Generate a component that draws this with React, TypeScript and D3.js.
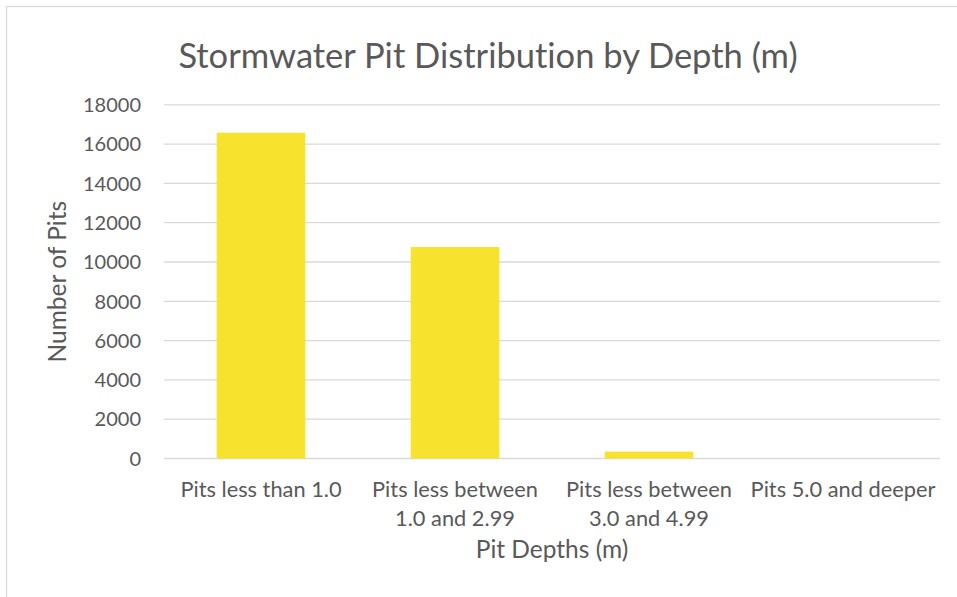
import React from "react";
import * as d3 from "d3";

const categories: string[][] = [
  ["Pits less than 1.0"],
  ["Pits less between", "1.0 and 2.99"],
  ["Pits less between", "3.0 and 4.99"],
  ["Pits 5.0 and deeper"],
];
const values: number[] = [16580, 10760, 350, 0];
const yTicks: number[] = [0, 2000, 4000, 6000, 8000, 10000, 12000, 14000, 16000, 18000];

const W = 957;
const H = 597;
const FONT = "Lato, 'Open Sans', sans-serif";
const TEXT = "#595959";
const GRID = "#d9d9d9";
const BAR = "#F7E22D";

export default function App() {
  const left = 164, right = 940, top = 104.8, bottom = 458.5;
  const x = d3
    .scaleBand<number>()
    .domain(categories.map((_, i) => i))
    .range([left, right])
    .paddingInner(0.543)
    .paddingOuter(0.2715);
  const y = d3.scaleLinear().domain([0, 18000]).range([bottom, top]);

  return (
    <svg
      width={W}
      height={H}
      style={{ position: "absolute", left: 0, top: 0, background: "#fff", fontVariantLigatures: "none" }}
      fontFamily={FONT}
    >
      <rect x={0} y={0} width={W} height={H} fill="#fff" />
      <rect x={6.5} y={6.5} width={1200} height={1200} fill="none" stroke={GRID} strokeWidth={1.3} />
      <text x={488} y={68} textAnchor="middle" fontSize={34.5} fill={TEXT}>
        Stormwater Pit Distribution by Depth (m)
      </text>
      {yTicks.map((t) => (
        <g key={t}>
          <line x1={left} x2={right} y1={y(t)} y2={y(t)} stroke={GRID} strokeWidth={t === 0 ? 1.6 : 1.3} />
          <text x={141} y={y(t)} dy="0.36em" textAnchor="end" fontSize={20} fill={TEXT}>
            {t}
          </text>
        </g>
      ))}
      {values.map((v, i) => (
        <rect
          key={i}
          x={x(i)!}
          y={y(v)}
          width={x.bandwidth()}
          height={Math.max(0, y(0) - y(v))}
          fill={BAR}
        />
      ))}
      {categories.map((lines, i) => (
        <text key={i} x={x(i)! + x.bandwidth() / 2} y={497} textAnchor="middle" fontSize={21.8} fill={TEXT}>
          {lines.map((l, j) => (
            <tspan key={j} x={x(i)! + x.bandwidth() / 2} dy={j === 0 ? 0 : 29}>
              {l}
            </tspan>
          ))}
        </text>
      ))}
      <text x={(left + right) / 2} y={558} textAnchor="middle" fontSize={24.5} fill={TEXT}>
        Pit Depths (m)
      </text>
      <text
        transform={`translate(66,${(top + bottom) / 2}) rotate(-90)`}
        textAnchor="middle"
        fontSize={24.5}
        fill={TEXT}
      >
        Number of Pits
      </text>
    </svg>
  );
}
